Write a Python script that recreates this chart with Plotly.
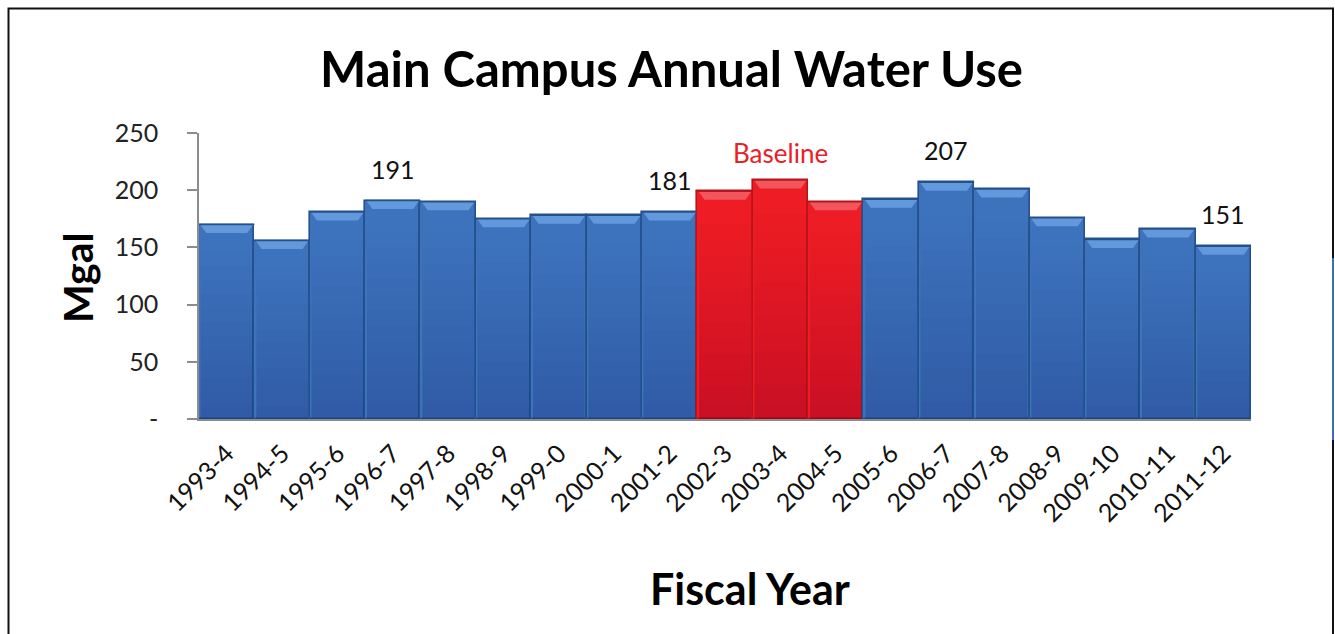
import plotly.graph_objects as go

# Fiscal years and annual water use (million gallons)
years = ["1993-4", "1994-5", "1995-6", "1996-7", "1997-8", "1998-9", "1999-0",
         "2000-1", "2001-2", "2002-3", "2003-4", "2004-5", "2005-6", "2006-7",
         "2007-8", "2008-9", "2009-10", "2010-11", "2011-12"]
mgal = [170, 156, 181, 191, 190, 175, 178, 178, 181, 199, 209, 190, 192, 207,
        201, 176, 157, 166, 151]
baseline_years = ["2002-3", "2003-4", "2004-5"]
labelled_years = ["1996-7", "2001-2", "2006-7", "2011-12"]

y_ticks = [0, 50, 100, 150, 200, 250]
y_tick_text = ["-", "50", "100", "150", "200", "250"]

BLUE, BLUE_EDGE, BLUE_TOP = "#3d73bd", "#24508c", "#6199dc"
RED, RED_EDGE, RED_TOP = "#ee1c24", "#b8141a", "#f3555c"

W, H = 1335, 634
L, R, T, B = 199, 84, 133, 215
pw, ph = W - L - R, H - T - B

idx = list(range(len(years)))
is_base = [y in baseline_years for y in years]
fill = [RED if b else BLUE for b in is_base]
edge = [RED_EDGE if b else BLUE_EDGE for b in is_base]

fig = go.Figure(go.Bar(
    x=idx, y=mgal, width=1.0,
    marker=dict(color=fill, line=dict(color=edge, width=1.6)),
    hoverinfo="x+y",
))

shapes = []
# bevelled top face on every bar, plus a soft darkening toward the base
bev_h = 8.5 / (ph / 250.0)
inset = 0.13
n_shade = 12
for i, v, b in zip(idx, mgal, is_base):
    for k in range(1, n_shade + 1):
        shapes.append(dict(
            type="rect", xref="x", yref="y", layer="above",
            x0=i - 0.5 + 0.03, x1=i + 0.5 - 0.03, y0=0, y1=v * k / (n_shade + 2),
            fillcolor="rgba(10,30,80,0.012)", line=dict(width=0)))
    top = RED_TOP if b else BLUE_TOP
    shapes.append(dict(
        type="path", xref="x", yref="y", layer="above",
        path=f"M {i-0.5+0.02},{v} L {i+0.5-0.02},{v} L {i+0.5-inset},{v-bev_h} "
             f"L {i-0.5+inset},{v-bev_h} Z",
        fillcolor=top, line=dict(width=0)))
    shapes.append(dict(
        type="line", xref="x", yref="y", layer="above",
        x0=i - 0.5, x1=i + 0.5, y0=v, y1=v,
        line=dict(color=edge[i], width=1.5)))


def px_to_paper_x(px):
    return (px - L) / pw


def px_to_paper_y(py):
    return (H - B - py) / ph


# outer frame
shapes.append(dict(type="rect", xref="paper", yref="paper",
                   x0=px_to_paper_x(8.5), x1=px_to_paper_x(1333),
                   y0=px_to_paper_y(645), y1=px_to_paper_y(8.5),
                   line=dict(color="#111111", width=2), fillcolor="rgba(0,0,0,0)"))
shapes.append(dict(type="line", xref="paper", yref="paper",
                   x0=px_to_paper_x(1333), x1=px_to_paper_x(1333),
                   y0=px_to_paper_y(258), y1=px_to_paper_y(440),
                   line=dict(color="#3a6fb5", width=2)))

font = "Lato, 'Open Sans', sans-serif"
annotations = [
    dict(text="<b>Main Campus Annual Water Use</b>", xref="paper", yref="paper",
         x=px_to_paper_x(671), y=px_to_paper_y(68), showarrow=False,
         xanchor="center", yanchor="middle",
         font=dict(family=font, size=49, color="#000000")),
    dict(text="<b>Mgal</b>", xref="paper", yref="paper", textangle=-90,
         x=px_to_paper_x(77), y=px_to_paper_y(278), showarrow=False,
         xanchor="center", yanchor="middle",
         font=dict(family=font, size=41, color="#000000")),
    dict(text="<b>Fiscal Year</b>", xref="paper", yref="paper",
         x=px_to_paper_x(750), y=px_to_paper_y(588), showarrow=False,
         xanchor="center", yanchor="middle",
         font=dict(family=font, size=43, color="#000000")),
    dict(text="Baseline", xref="x", yref="y",
         x=years.index("2003-4"), y=mgal[years.index("2003-4")],
         yshift=9, showarrow=False, xanchor="center", yanchor="bottom",
         font=dict(family=font, size=26, color="#e8202a")),
]
for yr in labelled_years:
    i = years.index(yr)
    annotations.append(dict(
        text=str(mgal[i]), xref="x", yref="y", x=i, y=mgal[i],
        yshift=15, showarrow=False, xanchor="center", yanchor="bottom",
        font=dict(family=font, size=25, color="#111111")))

fig.update_layout(
    width=W, height=H,
    margin=dict(l=L, r=R, t=T, b=B, pad=0),
    paper_bgcolor="white", plot_bgcolor="white",
    showlegend=False, bargap=0,
    shapes=shapes, annotations=annotations,
    xaxis=dict(
        range=[-0.5, len(years) - 0.5], tickmode="array",
        tickvals=idx, ticktext=years, tickangle=-45,
        tickfont=dict(family=font, size=25, color="#111111"),
        ticks="", ticklabelstandoff=8,
        showgrid=False, zeroline=False,
        showline=True, linecolor="#8c8c8c", linewidth=2,
    ),
    yaxis=dict(
        range=[0, 250], tickmode="array", tickvals=y_ticks, ticktext=y_tick_text,
        tickfont=dict(family=font, size=25, color="#222222"),
        ticks="outside", ticklen=10, tickwidth=1.5, tickcolor="#8c8c8c",
        ticklabelstandoff=24,
        showgrid=False, zeroline=False,
        showline=True, linecolor="#8c8c8c", linewidth=1.5,
    ),
)

fig.write_html("out.html")
